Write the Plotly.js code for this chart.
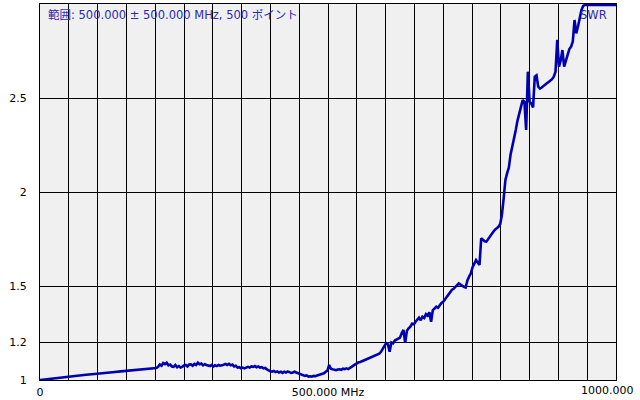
<!DOCTYPE html>
<html>
<head>
<meta charset="utf-8">
<script src="https://cdn.plot.ly/plotly-3.0.1.min.js"></script>
<style>html,body{margin:0;padding:0;background:#fff;}#chart{width:640px;height:400px;}</style>
</head>
<body>
<div id="chart"></div>
<script>
const freqMHz = [
0,10,20,30,40,50,60,70,80,90,
100,110,120,130,140,150,160,170,180,190,
200,
202,205,208,211,214,217,220,223,226,229,
232,235,238,241,244,247,250,253,256,259,
262,265,268,271,274,277,280,283,286,289,
292,295,298,301,304,307,310,313,316,319,
322,325,328,331,334,337,340,343,346,349,
352,355,358,361,364,367,370,373,376,379,
382,385,388,391,394,397,400,403,406,409,
412,415,418,421,424,427,430,433,436,439,
442,445,448,451,454,457,460,463,466,469,
472,475,478,481,484,487,490,493,496,499,
502,505,508,511,514,517,520,523,526,529,
532,535,538,541,544,547,550,553,556,559,
562,565,568,571,574,577,580,583,586,589,
592,595,598,601,604,607,610,613,616,619,
622,625,628,631,634,637,640,643,646,649,
652,655,658,661,664,667,670,673,676,679,
682,685,688,691,694,697,700,703,706,709,
712,715,718,721,724,727,730,733,736,739,
742,745,748,751,754,757,760,763,766,769,
772,775,778,781,784,787,790,793,796,799,
802,805,808,811,814,817,820,823,826,829,
832,835,838,841,844,847,850,853,856,859,
862,865,868,871,874,877,880,883,886,889,
892,895,898,901,904,907,910,913,916,919,
922,925,928,931,934,937,940,943,946,949,
960,980,1000];
const swr = [
1.000,1.004,1.008,1.012,1.015,1.018,1.022,1.025,1.028,1.031,
1.035,1.038,1.040,1.043,1.046,1.049,1.052,1.055,1.058,1.060,
1.062,
1.064,1.070,1.082,1.076,1.090,1.084,1.092,1.078,1.082,1.072,
1.070,1.080,1.068,1.074,1.066,1.070,1.078,1.080,1.072,1.082,
1.083,1.076,1.086,1.080,1.092,1.084,1.088,1.078,1.084,1.080,
1.076,1.074,1.080,1.071,1.078,1.074,1.080,1.076,1.078,1.082,
1.085,1.080,1.086,1.078,1.082,1.072,1.076,1.066,1.068,1.062,
1.066,1.062,1.064,1.070,1.066,1.072,1.070,1.074,1.068,1.072,
1.066,1.068,1.062,1.064,1.056,1.050,1.046,1.044,1.048,1.042,
1.046,1.040,1.044,1.038,1.044,1.040,1.046,1.042,1.038,1.040,
1.044,1.040,1.036,1.032,1.028,1.026,1.022,1.024,1.018,1.020,
1.018,1.022,1.020,1.024,1.027,1.026,1.032,1.036,1.044,1.050,
1.080,1.060,1.057,1.054,1.052,1.056,1.057,1.054,1.060,1.058,
1.062,1.058,1.066,1.070,1.076,1.082,1.090,1.094,1.096,1.102,
1.104,1.108,1.112,1.114,1.118,1.120,1.124,1.128,1.132,1.140,
1.150,1.165,1.180,1.196,1.190,1.150,1.200,1.195,1.210,1.215,
1.218,1.225,1.250,1.266,1.198,1.262,1.275,1.284,1.300,1.296,
1.310,1.320,1.332,1.318,1.337,1.330,1.350,1.342,1.360,1.310,
1.372,1.380,1.390,1.384,1.400,1.410,1.416,1.430,1.440,1.455,
1.470,1.479,1.485,1.494,1.505,1.514,1.508,1.500,1.496,1.492,
1.530,1.550,1.567,1.600,1.620,1.638,1.625,1.612,1.754,1.745,
1.738,1.736,1.750,1.765,1.780,1.789,1.800,1.808,1.815,1.830,
1.880,1.968,2.064,2.100,2.130,2.200,2.240,2.277,2.330,2.380,
2.420,2.460,2.489,2.480,2.330,2.640,2.480,2.470,2.450,2.613,
2.620,2.560,2.550,2.556,2.565,2.570,2.578,2.585,2.592,2.600,
2.613,2.640,2.810,2.667,2.700,2.755,2.667,2.700,2.738,2.760,
2.773,2.800,2.915,2.844,2.880,2.930,2.968,2.990,2.995,2.995,
2.995,2.995,2.995];

const xTickVals = [0,50,100,150,200,250,300,350,400,450,500,550,600,650,700,750,800,850,900,950,1000];
const xTickText = ["0","","","","","","","","","","500.000 MHz","","","","","","","","","",""];
const xEndLabel = "1000.000";
const yTickVals = [1,1.2,1.5,2,2.5];
const yTickText = ["1","1.2","1.5","2","2.5"];
const rangeLabel = "範囲: 500.000 ± 500.000 MHz, 500 ポイント";
const seriesName = "SWR";

const trace = {
  x: freqMHz, y: swr, type: 'scatter', mode: 'lines',
  line: {color: '#0000b0', width: 2.6},
  hoverinfo: 'skip'
};

const layout = {
  width: 640, height: 400,
  margin: {l: 40, r: 24, t: 4, b: 20},
  paper_bgcolor: '#ffffff',
  plot_bgcolor: '#f0f0f0',
  showlegend: false,
  font: {family: 'DejaVu Sans, Liberation Sans, sans-serif', size: 11, color: '#000'},
  xaxis: {
    range: [0, 1000], tickmode: 'array', tickvals: xTickVals, ticktext: xTickText,
    showgrid: true, gridcolor: '#000', gridwidth: 1, zeroline: false,
    showline: true, linecolor: '#000', linewidth: 1, mirror: true,
    ticks: '', ticklabelstandoff: 2, fixedrange: true
  },
  yaxis: {
    range: [1, 3], tickmode: 'array', tickvals: yTickVals, ticktext: yTickText,
    showgrid: true, gridcolor: '#000', gridwidth: 1, zeroline: false,
    showline: true, linecolor: '#000', linewidth: 1, mirror: true,
    ticks: '', ticklabelstandoff: 10, fixedrange: true
  },
  annotations: [
    {xref: 'paper', yref: 'paper', x: 0.01, y: 0.994, xanchor: 'left', yanchor: 'top',
     text: rangeLabel, showarrow: false,
     font: {family: 'DejaVu Sans, Noto Sans CJK JP, sans-serif', size: 11.5, color: '#2a2ab0'}},
    {xref: 'paper', yref: 'paper', x: 0.988, y: 0.994, xanchor: 'right', yanchor: 'top',
     text: seriesName, showarrow: false,
     font: {family: 'DejaVu Sans, Liberation Sans, sans-serif', size: 11.5, color: '#2a2ab0'}},
    {xref: 'x', yref: 'paper', x: xTickVals[xTickVals.length - 1], y: 0, xanchor: 'right', yanchor: 'top',
     xshift: 20, yshift: -2, text: xEndLabel, showarrow: false,
     font: {family: 'DejaVu Sans, Liberation Sans, sans-serif', size: 11, color: '#000'}}
  ]
};

Plotly.newPlot('chart', [trace], layout, {staticPlot: true, displayModeBar: false});
</script>
</body>
</html>
